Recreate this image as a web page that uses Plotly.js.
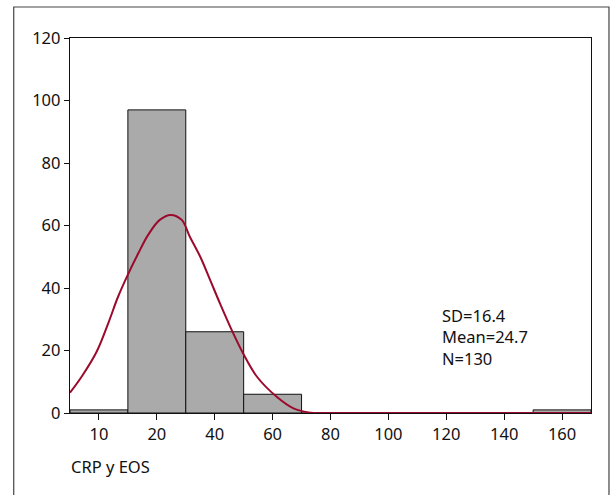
<!DOCTYPE html>
<html>
<head>
<meta charset="utf-8">
<script src="https://cdn.plot.ly/plotly-3.0.1.min.js"></script>
<style>html,body{margin:0;padding:0;background:#fff;}#chart{width:610px;height:495px;}</style>
</head>
<body>
<div id="chart"></div>
<script>
// Histogram bins (index positions) and counts
var binIndex = [0, 1, 2, 3, 4, 5, 6, 7, 8];
var binLabels = ["10", "20", "40", "60", "80", "100", "120", "140", "160"];
var counts = [1, 97, 26, 6, 0, 0, 0, 0, 1];

// Fitted curve (x in bin-index units)
var curveX = [-0.5, -0.3, -0.04, 0.16, 0.33, 0.51, 0.68, 0.85, 1.05, 1.24, 1.43, 1.57, 1.75, 1.92, 2.09, 2.32, 2.49, 2.73, 3.07, 3.36, 3.62, 4.0, 4.6, 8.5];
var curveY = [6.5, 11.6, 19.6, 28.7, 37.2, 44.7, 51.1, 57.0, 61.8, 63.4, 61.8, 56.4, 50.0, 42.6, 35.1, 25.5, 19.1, 11.6, 5.2, 1.5, 0.2, 0.03, 0, 0];

var statsLines = ["SD=16.4", "Mean=24.7", "N=130"];
var yTicks = [0, 20, 40, 60, 80, 100, 120];

var fontFam = "Noto Sans, Open Sans, sans-serif";
var fs = 16.5;

var traces = [
  {
    type: "bar",
    x: binIndex,
    y: counts,
    width: 1,
    marker: {color: "#aaaaaa", line: {color: "#111111", width: 1}},
    hoverinfo: "skip"
  },
  {
    type: "scatter",
    mode: "lines",
    x: curveX,
    y: curveY,
    line: {color: "#9b0a2c", width: 2, shape: "spline", smoothing: 1},
    hoverinfo: "skip"
  }
];

var layout = {
  width: 610,
  height: 495,
  margin: {l: 70, r: 19, t: 38, b: 82},
  paper_bgcolor: "#ffffff",
  plot_bgcolor: "#ffffff",
  showlegend: false,
  bargap: 0,
  font: {family: fontFam, size: fs, color: "#111111"},
  xaxis: {
    range: [-0.5, 8.5],
    tickmode: "array",
    tickvals: binIndex,
    ticktext: binLabels,
    ticks: "outside",
    ticklen: 6,
    tickcolor: "#111111",
    tickfont: {family: fontFam, size: fs, color: "#111111"},
    showline: true,
    linecolor: "#111111",
    linewidth: 1.2,
    mirror: true,
    showgrid: false,
    zeroline: false,
    fixedrange: true
  },
  yaxis: {
    range: [0, 120],
    tickmode: "array",
    tickvals: yTicks,
    ticktext: yTicks.map(String),
    ticks: "outside",
    ticklen: 5,
    tickcolor: "#111111",
    tickfont: {family: fontFam, size: fs, color: "#111111"},
    showline: true,
    linecolor: "#111111",
    linewidth: 1.2,
    mirror: true,
    showgrid: false,
    zeroline: false,
    fixedrange: true
  },
  annotations: [
    {
      xref: "paper", yref: "paper", x: -0.001, y: -0.144,
      xanchor: "left", yanchor: "middle",
      text: "CRP y EOS", showarrow: false,
      font: {family: fontFam, size: fs, color: "#111111"}
    },
    {
      xref: "paper", yref: "paper", x: 0.711, y: 0.2035,
      xanchor: "left", yanchor: "middle", align: "left",
      text: statsLines.join("<br>"), showarrow: false,
      font: {family: fontFam, size: fs, color: "#111111"}
    }
  ],
  shapes: [
    {
      type: "rect", xref: "paper", yref: "paper",
      x0: -0.108, x1: 1.0345, y0: -0.25, y1: 1.0827,
      line: {color: "#444444", width: 1.2}, layer: "above"
    }
  ]
};

Plotly.newPlot("chart", traces, layout, {displayModeBar: false, staticPlot: true});
</script>
</body>
</html>
